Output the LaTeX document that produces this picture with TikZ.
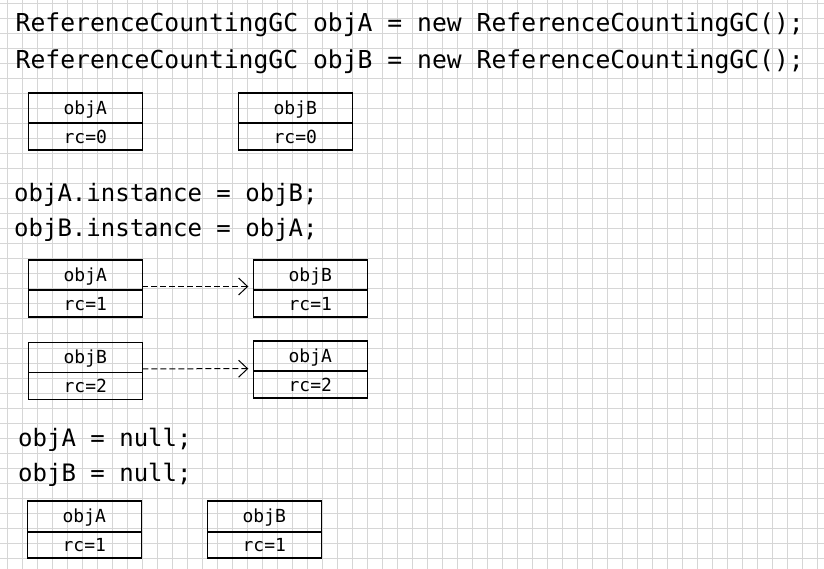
\documentclass[tikz,border=0pt]{standalone}
\usepackage{fontspec}
\setmonofont{DejaVu Sans Mono}
\usetikzlibrary{arrows.meta,positioning}

\begin{document}
\begin{tikzpicture}[x=1pt,y=-1pt,
          gitter/.style={gray!32, line width=0.8pt},
          code/.style={anchor=base west, inner sep=0pt, font=\ttfamily\fontsize{24}{24}\selectfont},
          kopf/.style={draw, line width=1.6pt, outer sep=0pt, inner sep=0pt, minimum width=114pt, minimum height=30pt,
                       text height=13pt, text depth=0pt, font=\ttfamily\fontsize{18}{18}\selectfont},
          zahl/.style={kopf, minimum height=27pt},
          ref/.style={dash pattern=on 6pt off 3pt, line width=1pt, -{Straight Barb[length=9pt,width=17pt]}}
        ]
          \useasboundingbox (0,0) rectangle (824,569);

          % Raster
          \foreach \x in {7.3,22.3,...,817.3}
            \draw[gitter] (\x,0) -- (\x,569);
          \foreach \y in {3.3,18.3,...,558.3}
            \draw[gitter] (0,\y) -- (824,\y);

          % Anlegen
          \node[code, font=\ttfamily\fontsize{24.7}{24.7}\selectfont] (l1) at (15.5,31.7) {ReferenceCountingGC objA = new ReferenceCountingGC();};
          \node[code, font=\ttfamily\fontsize{24.7}{24.7}\selectfont] (l2) at (15.5,68.3) {ReferenceCountingGC objB = new ReferenceCountingGC();};

          \node[kopf, anchor=north west] (a1) at (28.3,93.3) {objA};
          \node[zahl, below=0pt of a1] (a1rc) {rc=0};
          \node[kopf, right=96pt of a1] (b1) {objB};
          \node[zahl, below=0pt of b1] (b1rc) {rc=0};

          % Gegenseitige Referenz
          \node[code] (l3) at (14,201.7) {objA.instance = objB;};
          \node[code] (l4) at (14,236.7) {objB.instance = objA;};

          \node[kopf, anchor=north west] (a2) at (28.3,260) {objA};
          \node[zahl, below=0pt of a2] (a2rc) {rc=1};
          \node[kopf, right=111pt of a2] (b2) {objB};
          \node[zahl, below=0pt of b2] (b2rc) {rc=1};
          \draw[ref] ([yshift=3.5pt]a2.south east) -- ([xshift=-5pt,yshift=3.5pt]b2.south west);

          \node[kopf, anchor=north west] (b3) at (28.3,342.3) {objB};
          \node[zahl, below=0pt of b3] (b3rc) {rc=2};
          \node[kopf, anchor=north west] (a3) at (253.3,341) {objA};
          \node[zahl, below=0pt of a3] (a3rc) {rc=2};
          \draw[ref] ([yshift=3.5pt]b3.south east) -- ([xshift=-5pt,yshift=2.3pt]a3.south west);

          % null setzen
          \node[code] (l5) at (18,446.7) {objA = null;};
          \node[code] (l6) at (18,481.7) {objB = null;};

          \node[kopf, anchor=north west, minimum height=31pt] (a4) at (27.3,500.7) {objA};
          \node[zahl, below=0pt of a4, minimum height=26pt] (a4rc) {rc=1};
          \node[kopf, right=66pt of a4, minimum height=31pt] (b4) {objB};
          \node[zahl, below=0pt of b4, minimum height=26pt] (b4rc) {rc=1};
        \end{tikzpicture}
\end{document}
